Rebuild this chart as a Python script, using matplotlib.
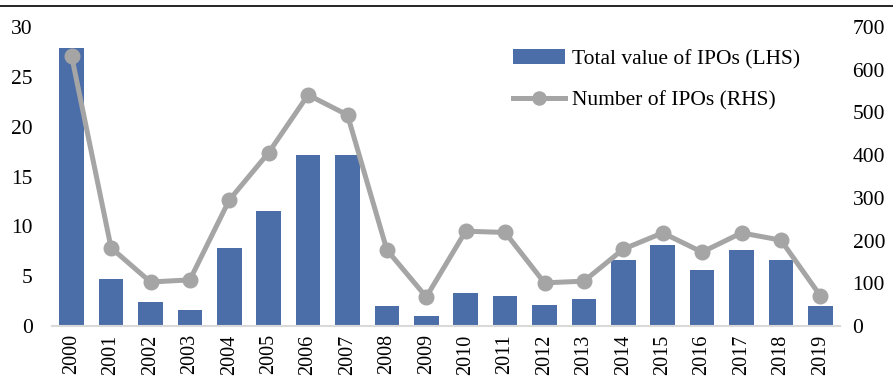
import matplotlib
matplotlib.use("Agg")
import matplotlib.pyplot as plt
from matplotlib.lines import Line2D
import numpy as np

plt.rcParams['font.family'] = ['Liberation Serif', 'DejaVu Serif']

years = [str(y) for y in range(2000, 2020)]
total_value = [27.9, 4.7, 2.4, 1.6, 7.85, 11.55, 17.15, 17.15, 2.05, 1.0,
               3.35, 3.0, 2.15, 2.7, 6.6, 8.1, 5.6, 7.6, 6.65, 2.0]
num_ipos = [631, 183, 103, 108, 295, 406, 541, 494, 178, 68,
            222, 219, 101, 105, 180, 218, 173, 218, 201, 71]

bar_color = '#4C6EA8'
line_color = '#A5A5A5'
fs = 15.5

fig = plt.figure(figsize=(8.93, 3.78), dpi=100)
ax = fig.add_axes([52 / 893, 1 - 326 / 378, 788 / 893, 299 / 378])
ax2 = ax.twinx()

x = np.arange(len(years))
bars = ax.bar(x, total_value, width=0.62, color=bar_color,
              label='Total value of IPOs (LHS)', zorder=2)
line, = ax2.plot(x, num_ipos, color=line_color, lw=3.6, marker='o',
                 markersize=10.5, label='Number of IPOs (RHS)', zorder=3)

ax.set_xlim(-0.5, 19.5)
ax.set_ylim(0, 30)
ax2.set_ylim(0, 700)
ax.set_yticks(range(0, 31, 5))
ax2.set_yticks(range(0, 701, 100))
ax.set_xticks(x)
ax.set_xticklabels(years, rotation=90)

for a in (ax, ax2):
    for s in a.spines.values():
        s.set_visible(False)
    a.tick_params(length=0, labelsize=fs)
ax.tick_params(axis='y', pad=14)
ax2.tick_params(axis='y', pad=9)
ax.tick_params(axis='x', pad=6, labelsize=14.5)

ax.axhline(0, color='#D9D9D9', lw=1.5, zorder=4, clip_on=False)

ax2.legend([bars, line], [bars.get_label(), line.get_label()],
           loc='upper left', bbox_to_anchor=(452 / 788, 0.955), frameon=False,
           fontsize=fs, handlelength=2.45, handletextpad=0.3,
           labelspacing=1.0, borderaxespad=0, markerscale=0.9)

fig.add_artist(Line2D([0, 1], [1 - 6 / 378, 1 - 6 / 378], color='black', lw=1.2))

fig.savefig('out.png', dpi=100)
